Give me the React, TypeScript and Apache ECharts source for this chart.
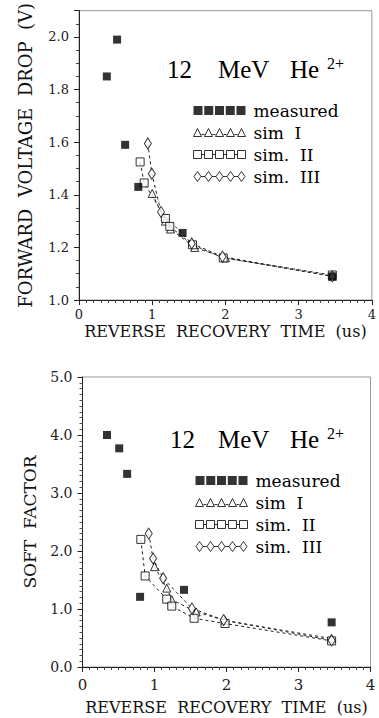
import React, { useEffect, useRef } from "react";
import * as echarts from "echarts";

// ---------- data ----------
const xTicks = [0, 1, 2, 3, 4];
const yTicksTop = [1.0, 1.2, 1.4, 1.6, 1.8, 2.0];
const yTicksBottom = [0, 1, 2, 3, 4, 5];

const measuredTop = [[0.38, 1.85], [0.52, 1.99], [0.63, 1.59], [0.81, 1.43], [1.415, 1.255], [3.46, 1.09]];
const simITop = [[1.0, 1.405], [1.18, 1.3], [1.25, 1.27], [1.58, 1.2], [2.0, 1.16], [3.46, 1.09]];
const simIITop = [[0.835, 1.525], [0.89, 1.445], [1.18, 1.31], [1.24, 1.28], [1.55, 1.21], [1.97, 1.16], [3.46, 1.095]];
const simIIITop = [[0.94, 1.595], [0.995, 1.48], [1.12, 1.335], [1.54, 1.215], [1.96, 1.165], [3.46, 1.09]];

const measuredBottom = [[0.34, 4.0], [0.51, 3.77], [0.62, 3.33], [0.8, 1.21], [1.41, 1.33], [3.46, 0.77]];
const simIBottom = [[1.0, 1.73], [1.17, 1.36], [1.24, 1.16], [1.58, 0.95], [1.98, 0.8], [3.46, 0.49]];
const simIIBottom = [[0.81, 2.2], [0.87, 1.57], [1.17, 1.17], [1.24, 1.05], [1.55, 0.84], [1.98, 0.75], [3.46, 0.45]];
const simIIIBottom = [[0.92, 2.3], [0.98, 1.87], [1.12, 1.53], [1.52, 1.01], [1.96, 0.81], [3.46, 0.46]];

const seriesNames = ["measured", "sim  I", "sim.  II", "sim.  III"];

// ---------- legend icons (5 marks each) ----------
const sqIcon = "path://" + [0, 10.75, 21.5, 32.25, 43].map((x) => `M${x} 0.5h9v9h-${9}z`).join(" ") + " M0 0 M52 10";
const centers = [4, 15, 26, 37, 48];
const triIcon =
  "path://" +
  centers.map((c) => `M${c - 4} 9L${c} 1L${c + 4} 9Z`).join(" ") +
  " " +
  centers.slice(0, 4).map((c) => `M${c + 4} 7L${c + 7} 7`).join(" ") +
  " M0 0 M52 10";
const boxIcon =
  "path://" +
  centers.map((c) => `M${c - 4} 1h8v8h-8Z`).join(" ") +
  " " +
  centers.slice(0, 4).map((c) => `M${c + 4} 5L${c + 7} 5`).join(" ") +
  " M0 0 M52 10";
const diaIcon =
  "path://" +
  centers.map((c) => `M${c} 0L${c + 3.5} 5L${c} 10L${c - 3.5} 5Z`).join(" ") +
  " " +
  centers.slice(0, 4).map((c) => `M${c + 3.5} 5L${c + 7.5} 5`).join(" ") +
  " M0 0 M52 10";

const SERIF = '"DejaVu Serif", serif';
const TITLE_FONT = '"Liberation Serif", serif';

export default function App() {
  const ref = useRef<HTMLDivElement>(null);

  useEffect(() => {
    if (!ref.current) return;
    const chart = echarts.init(ref.current, undefined, { renderer: "svg" });

    const openStyle = { color: "#fff", borderColor: "#000", borderWidth: 1 };
    const lineStyle = { color: "#222", width: 1, type: [3, 3] as any };

    const makeSeries = (gi: number, m: number[][], s1: number[][], s2: number[][], s3: number[][]) => [
      { type: "line", name: "l1_" + gi, xAxisIndex: gi, yAxisIndex: gi, data: s1, symbol: "none", lineStyle, z: 1 },
      { type: "line", name: "l2_" + gi, xAxisIndex: gi, yAxisIndex: gi, data: s2, symbol: "none", lineStyle, z: 1 },
      { type: "line", name: "l3_" + gi, xAxisIndex: gi, yAxisIndex: gi, data: s3, symbol: "none", lineStyle, z: 1 },
      { type: "scatter", name: seriesNames[1], xAxisIndex: gi, yAxisIndex: gi, data: s1, symbol: "triangle", symbolSize: 8, itemStyle: openStyle, z: 3 },
      { type: "scatter", name: seriesNames[2], xAxisIndex: gi, yAxisIndex: gi, data: s2, symbol: "rect", symbolSize: 8, itemStyle: openStyle, z: 3 },
      { type: "scatter", name: seriesNames[3], xAxisIndex: gi, yAxisIndex: gi, data: s3, symbol: "diamond", symbolSize: [7, 11], itemStyle: openStyle, z: 3 },
      { type: "scatter", name: seriesNames[0], xAxisIndex: gi, yAxisIndex: gi, data: m, symbol: "rect", symbolSize: 8, itemStyle: { color: "#000" }, z: 4 },
    ];

    const legendData = [
      { name: seriesNames[0], icon: sqIcon, itemStyle: { color: "#000", borderWidth: 0 } },
      { name: seriesNames[1], icon: triIcon, itemStyle: openStyle },
      { name: seriesNames[2], icon: boxIcon, itemStyle: openStyle },
      { name: seriesNames[3], icon: diaIcon, itemStyle: openStyle },
    ];
    const legendBase = {
      orient: "vertical",
      itemWidth: 52,
      itemHeight: 10,
      itemGap: 5,
      selectedMode: false,
      textStyle: { fontFamily: SERIF, fontSize: 17, color: "#000", lineHeight: 12, padding: [0, 0, 0, 3] },
      data: legendData,
    };

    const xAxisBase = (gridIndex: number, nameGap: number, labelSize: number, nameSize: number, margin: number) => ({
      type: "value",
      gridIndex,
      min: xTicks[0],
      max: xTicks[xTicks.length - 1],
      interval: 1,
      name: "REVERSE  RECOVERY  TIME  (us)",
      nameLocation: "middle",
      nameGap,
      nameTextStyle: { fontFamily: SERIF, fontSize: nameSize, color: "#111", lineHeight: 16 },
      axisLine: { show: true, lineStyle: { color: "#222", width: 1 } },
      axisTick: { show: true, length: 5, lineStyle: { color: "#222" } },
      minorTick: { show: true, splitNumber: 10, length: 3, lineStyle: { color: "#444" } },
      splitLine: { show: false },
      axisLabel: { fontFamily: SERIF, fontSize: labelSize, color: "#222", margin, lineHeight: 13, formatter: (v: number) => String(v) },
    });

    const option: any = {
      animation: false,
      backgroundColor: "#fff",
      grid: [
        { left: 79, top: 5, width: 294, height: 295, show: true, borderColor: "#999", borderWidth: 1 },
        { left: 82.5, top: 377, width: 288, height: 290, show: true, borderColor: "#999", borderWidth: 1 },
      ],
      xAxis: [xAxisBase(0, 23, 13, 16, 8), xAxisBase(1, 32, 15, 16, 11)],
      yAxis: [
        {
          type: "value",
          gridIndex: 0,
          min: yTicksTop[0],
          max: 2.1,
          interval: 0.2,
          name: "FORWARD  VOLTAGE  DROP  (V)",
          nameLocation: "middle",
          nameGap: 45,
          nameTextStyle: { fontFamily: SERIF, fontSize: 18, color: "#111" },
          axisLine: { show: true, lineStyle: { color: "#222" } },
          axisTick: { show: true, length: 5, lineStyle: { color: "#222" } },
          minorTick: { show: true, splitNumber: 4, length: 3, lineStyle: { color: "#444" } },
          splitLine: { show: false },
          axisLabel: {
            fontFamily: SERIF,
            fontSize: 13,
            color: "#222",
            margin: 10,
            showMaxLabel: false,
            formatter: (v: number) => (v > 2.05 ? "" : v.toFixed(1)),
          },
        },
        {
          type: "value",
          gridIndex: 1,
          min: yTicksBottom[0],
          max: yTicksBottom[yTicksBottom.length - 1],
          interval: 1,
          name: "SOFT  FACTOR",
          nameLocation: "middle",
          nameGap: 44,
          nameTextStyle: { fontFamily: SERIF, fontSize: 17, color: "#111" },
          axisLine: { show: true, lineStyle: { color: "#222" } },
          axisTick: { show: true, length: 5, lineStyle: { color: "#222" } },
          minorTick: { show: true, splitNumber: 10, length: 3, lineStyle: { color: "#555" } },
          splitLine: { show: false },
          axisLabel: { fontFamily: SERIF, fontSize: 14, color: "#222", margin: 10, formatter: (v: number) => v.toFixed(1) },
        },
      ],
      legend: [
        { ...legendBase, left: 188, top: 97 },
        { ...legendBase, left: 190, top: 467 },
      ],
      graphic: [
        { type: "text", left: 167, top: 57, style: { text: "12", font: `25px ${TITLE_FONT}`, fill: "#000" } },
        { type: "text", left: 218, top: 57, style: { text: "MeV", font: `25px ${TITLE_FONT}`, fill: "#000" } },
        { type: "text", left: 290, top: 57, style: { text: "He", font: `25px ${TITLE_FONT}`, fill: "#000" } },
        { type: "text", left: 327, top: 55, style: { text: "2+", font: `16px ${TITLE_FONT}`, fill: "#000" } },
        { type: "text", left: 170, top: 427, style: { text: "12", font: `25px ${TITLE_FONT}`, fill: "#000" } },
        { type: "text", left: 218, top: 427, style: { text: "MeV", font: `25px ${TITLE_FONT}`, fill: "#000" } },
        { type: "text", left: 290, top: 427, style: { text: "He", font: `25px ${TITLE_FONT}`, fill: "#000" } },
        { type: "text", left: 327, top: 425, style: { text: "2+", font: `16px ${TITLE_FONT}`, fill: "#000" } },
      ],
      series: [
        ...makeSeries(0, measuredTop, simITop, simIITop, simIIITop),
        ...makeSeries(1, measuredBottom, simIBottom, simIIBottom, simIIIBottom),
      ],
    };

    chart.setOption(option);
    return () => chart.dispose();
  }, []);

  return (
    <div
      ref={ref}
      style={{ position: "fixed", left: 0, top: 0, width: 379, height: 718, background: "#fff" }}
    />
  );
}
